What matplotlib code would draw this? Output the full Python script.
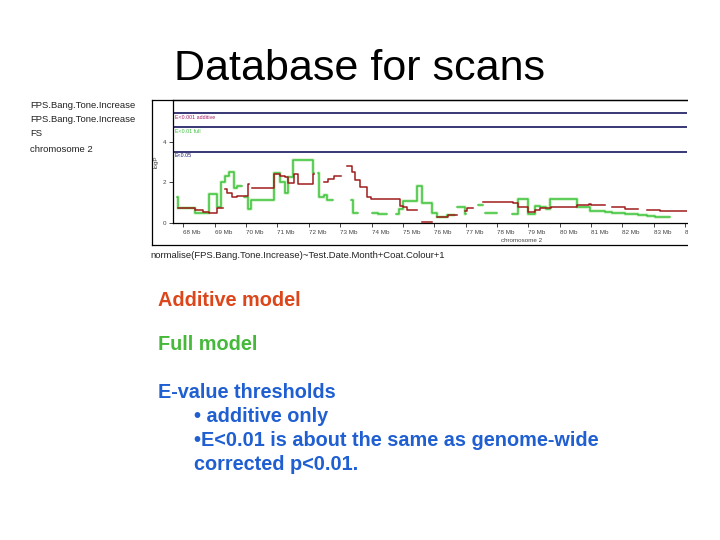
import numpy as np
import matplotlib
matplotlib.use("Agg")
import matplotlib.pyplot as plt
from matplotlib.lines import Line2D
from matplotlib.patches import Rectangle

plt.rcParams['font.family'] = ['Liberation Sans', 'DejaVu Sans']

# ---------------- data ----------------
tick_mb = list(range(68, 85))
tick_labels = [f"{m} Mb" for m in tick_mb]
y_ticks = [0, 2, 4]
e_thresholds = [5.43, 4.74, 3.51]
e_labels = ["E<0.001 additive", "E<0.01 full", "E<0.05"]
e_label_colors = ["#a0206a", "#3cbf3c", "#181870"]

# additive model: step segments (x edges, levels)
additive_x = [
    [67.84, 68.37, 68.63, 68.83, 69.06, 69.25],
    [69.33, 69.40, 69.54, 69.70, 70.07, 70.10],
    [70.18, 70.89, 71.08, 71.24, 71.35, 71.53, 71.67, 72.14, 72.16],
    [72.48, 72.60, 72.80, 73.02],
    [73.21, 73.37, 73.47, 73.63, 73.85, 73.98, 74.91, 75.01, 75.12, 75.44],
    [75.60, 75.92],
    [76.08, 76.45, 76.72],
    [76.98, 77.05, 77.24],
    [77.57, 78.52, 78.68, 79.00, 79.22, 79.38, 79.73, 80.55, 80.95, 81.00, 81.45],
    [81.66, 82.08, 82.51],
    [82.77, 83.20, 84.10],
]
additive_y = [
    [0.72, 0.62, 0.55, 0.48, 0.75],
    [1.66, 1.46, 1.27, 1.33, 1.93],
    [1.71, 2.42, 2.33, 2.25, 1.96, 2.42, 1.93, 2.42],
    [2.00, 2.15, 2.30],
    [2.81, 2.53, 2.12, 1.80, 1.27, 1.20, 0.86, 0.78, 0.64],
    [0.03],
    [0.31, 0.40],
    [0.60, 0.75],
    [1.02, 0.98, 0.80, 0.56, 0.63, 0.75, 0.78, 0.90, 0.95, 0.89],
    [0.78, 0.71],
    [0.64, 0.59],
]

# full model: step segments (x edges, levels)
full_x = [
    [67.81, 67.84, 68.37, 68.83, 69.06, 69.20, 69.33, 69.47, 69.62, 69.72, 69.87],
    [69.93, 70.07, 70.17, 70.89, 71.08, 71.24, 71.35, 71.50, 72.14, 72.16],
    [72.30, 72.31, 72.50, 72.58, 72.77],
    [73.35, 73.40, 73.57],
    [74.00, 74.22, 74.48],
    [74.78, 74.88, 75.00, 75.44, 75.60, 75.92, 76.08, 76.40, 76.66],
    [76.72, 76.98, 77.02],
    [77.41, 77.57],
    [77.62, 78.00],
    [78.47, 78.68, 79.00, 79.22, 79.38, 79.56, 79.69, 80.55, 80.97, 81.45,
     81.66, 82.08, 82.50, 82.77, 83.03, 83.52],
]
full_y = [
    [1.30, 0.72, 0.51, 1.42, 0.78, 2.03, 2.33, 2.53, 1.73, 1.83],
    [1.30, 0.70, 1.14, 2.45, 2.03, 1.46, 2.25, 3.10, 2.45],
    [2.45, 1.30, 1.38, 1.14],
    [1.15, 0.48],
    [0.48, 0.44],
    [0.45, 0.70, 1.10, 1.83, 0.98, 0.48, 0.31, 0.40],
    [0.80, 0.45],
    [0.89],
    [0.48],
    [0.44, 1.17, 0.45, 0.85, 0.80, 0.68, 1.17, 0.80, 0.58, 0.53,
     0.49, 0.45, 0.38, 0.34, 0.30],
]

# ---------------- helpers ----------------
W, H = 720, 540
def fx(px):
    return px / W
def fy(py):
    return 1 - py / H

def build(xsegs, ysegs):
    xs, ys = [], []
    for xe, lv in zip(xsegs, ysegs):
        xs += list(xe) + [np.nan]
        ys += list(lv) + [lv[-1], np.nan]
    return np.array(xs, float), np.array(ys, float)

fig = plt.figure(figsize=(7.2, 5.4), dpi=100)
fig.patch.set_facecolor("white")

# title
fig.text(fx(359), fy(69), "Database for scans", ha="center", va="center",
         fontsize=31, color="black")

# left header texts (from the screenshot)
for py, t in [(106, "FPS.Bang.Tone.Increase"), (120, "FPS.Bang.Tone.Increase"),
              (134, "FS"), (150, "chromosome 2")]:
    fig.text(fx(30), fy(py), t, ha="left", va="center", fontsize=6.8, color="#222222")

# chart axes
ax = fig.add_axes([fx(173), fy(223), fx(687) - fx(173), (223 - 100) / H])
ax.set_xlim(67.67, 84.06)
ax.set_ylim(0, 6.07)

for thr in e_thresholds:
    ax.axhline(thr, color="#15155e", lw=1.2, zorder=2)
for thr, lab, c in zip(e_thresholds, e_labels, e_label_colors):
    ax.text(67.72, thr - 0.08, lab, fontsize=3.8, color=c, ha="left", va="top")

gx, gy = build(full_x, full_y)
rx, ry = build(additive_x, additive_y)
ax.plot(gx, gy, drawstyle="steps-post", color="#d4f2cc", lw=2.6, zorder=3,
        solid_capstyle="butt")
ax.plot(gx, gy, drawstyle="steps-post", color="#3cc43c", lw=1.1, zorder=4)
ax.plot(rx, ry, drawstyle="steps-post", color="#a01c1c", lw=1.1, zorder=5)

ax.set_xticks(tick_mb)
ax.set_xticklabels(tick_labels, ha="left", fontsize=4.5, color="#444444")
ax.set_yticks(y_ticks)
ax.set_yticklabels([str(v) for v in y_ticks], fontsize=4.5, color="#444444")
ax.tick_params(axis="both", direction="out", length=3, width=0.7, pad=2,
               colors="#444444")
ax.set_ylabel("logP", fontsize=4.5, color="#444444", labelpad=3)
ax.set_xlabel("chromosome 2", fontsize=4.5, color="#444444", labelpad=2)
ax.xaxis.set_label_coords((522 - 173) / (687 - 173), -0.12)
for s in ["left", "bottom", "top"]:
    ax.spines[s].set_linewidth(0.9)
    ax.spines[s].set_color("black")
ax.spines["right"].set_visible(False)

# outer frame of screenshot
fig.add_artist(Line2D([fx(152), fx(687)], [fy(100), fy(100)], color="black", lw=0.9))
fig.add_artist(Line2D([fx(152), fx(152)], [fy(100), fy(245)], color="black", lw=0.9))
fig.add_artist(Line2D([fx(152), fx(687)], [fy(245), fy(245)], color="black", lw=0.9))

# screenshot cut at the right edge
fig.add_artist(Rectangle((fx(687.5), fy(250)), 1 - fx(687.5), (250 - 95) / H,
                         transform=fig.transFigure, facecolor="white",
                         edgecolor="none", zorder=20))

# model formula caption
fig.text(fx(150), fy(256), "normalise(FPS.Bang.Tone.Increase)~Test.Date.Month+Coat.Colour+1",
         ha="left", va="center", fontsize=6.8, color="#222222")

# slide body text
blue = "#1f5fd2"
fs = 14.3
fig.text(fx(158), fy(300), "Additive model", fontsize=fs, fontweight="bold",
         color="#dc461a", ha="left", va="center")
fig.text(fx(158), fy(344), "Full model", fontsize=fs, fontweight="bold",
         color="#46b93a", ha="left", va="center")
fig.text(fx(158), fy(393), "E-value thresholds", fontsize=fs, fontweight="bold",
         color=blue, ha="left", va="center")
fig.text(fx(194), fy(417), "• additive only", fontsize=fs, fontweight="bold",
         color=blue, ha="left", va="center")
fig.text(fx(194), fy(441), "•E<0.01 is about the same as genome-wide", fontsize=fs,
         fontweight="bold", color=blue, ha="left", va="center")
fig.text(fx(194), fy(465), "corrected p<0.01.", fontsize=fs, fontweight="bold",
         color=blue, ha="left", va="center")

fig.savefig("out.png", dpi=100, facecolor="white")
